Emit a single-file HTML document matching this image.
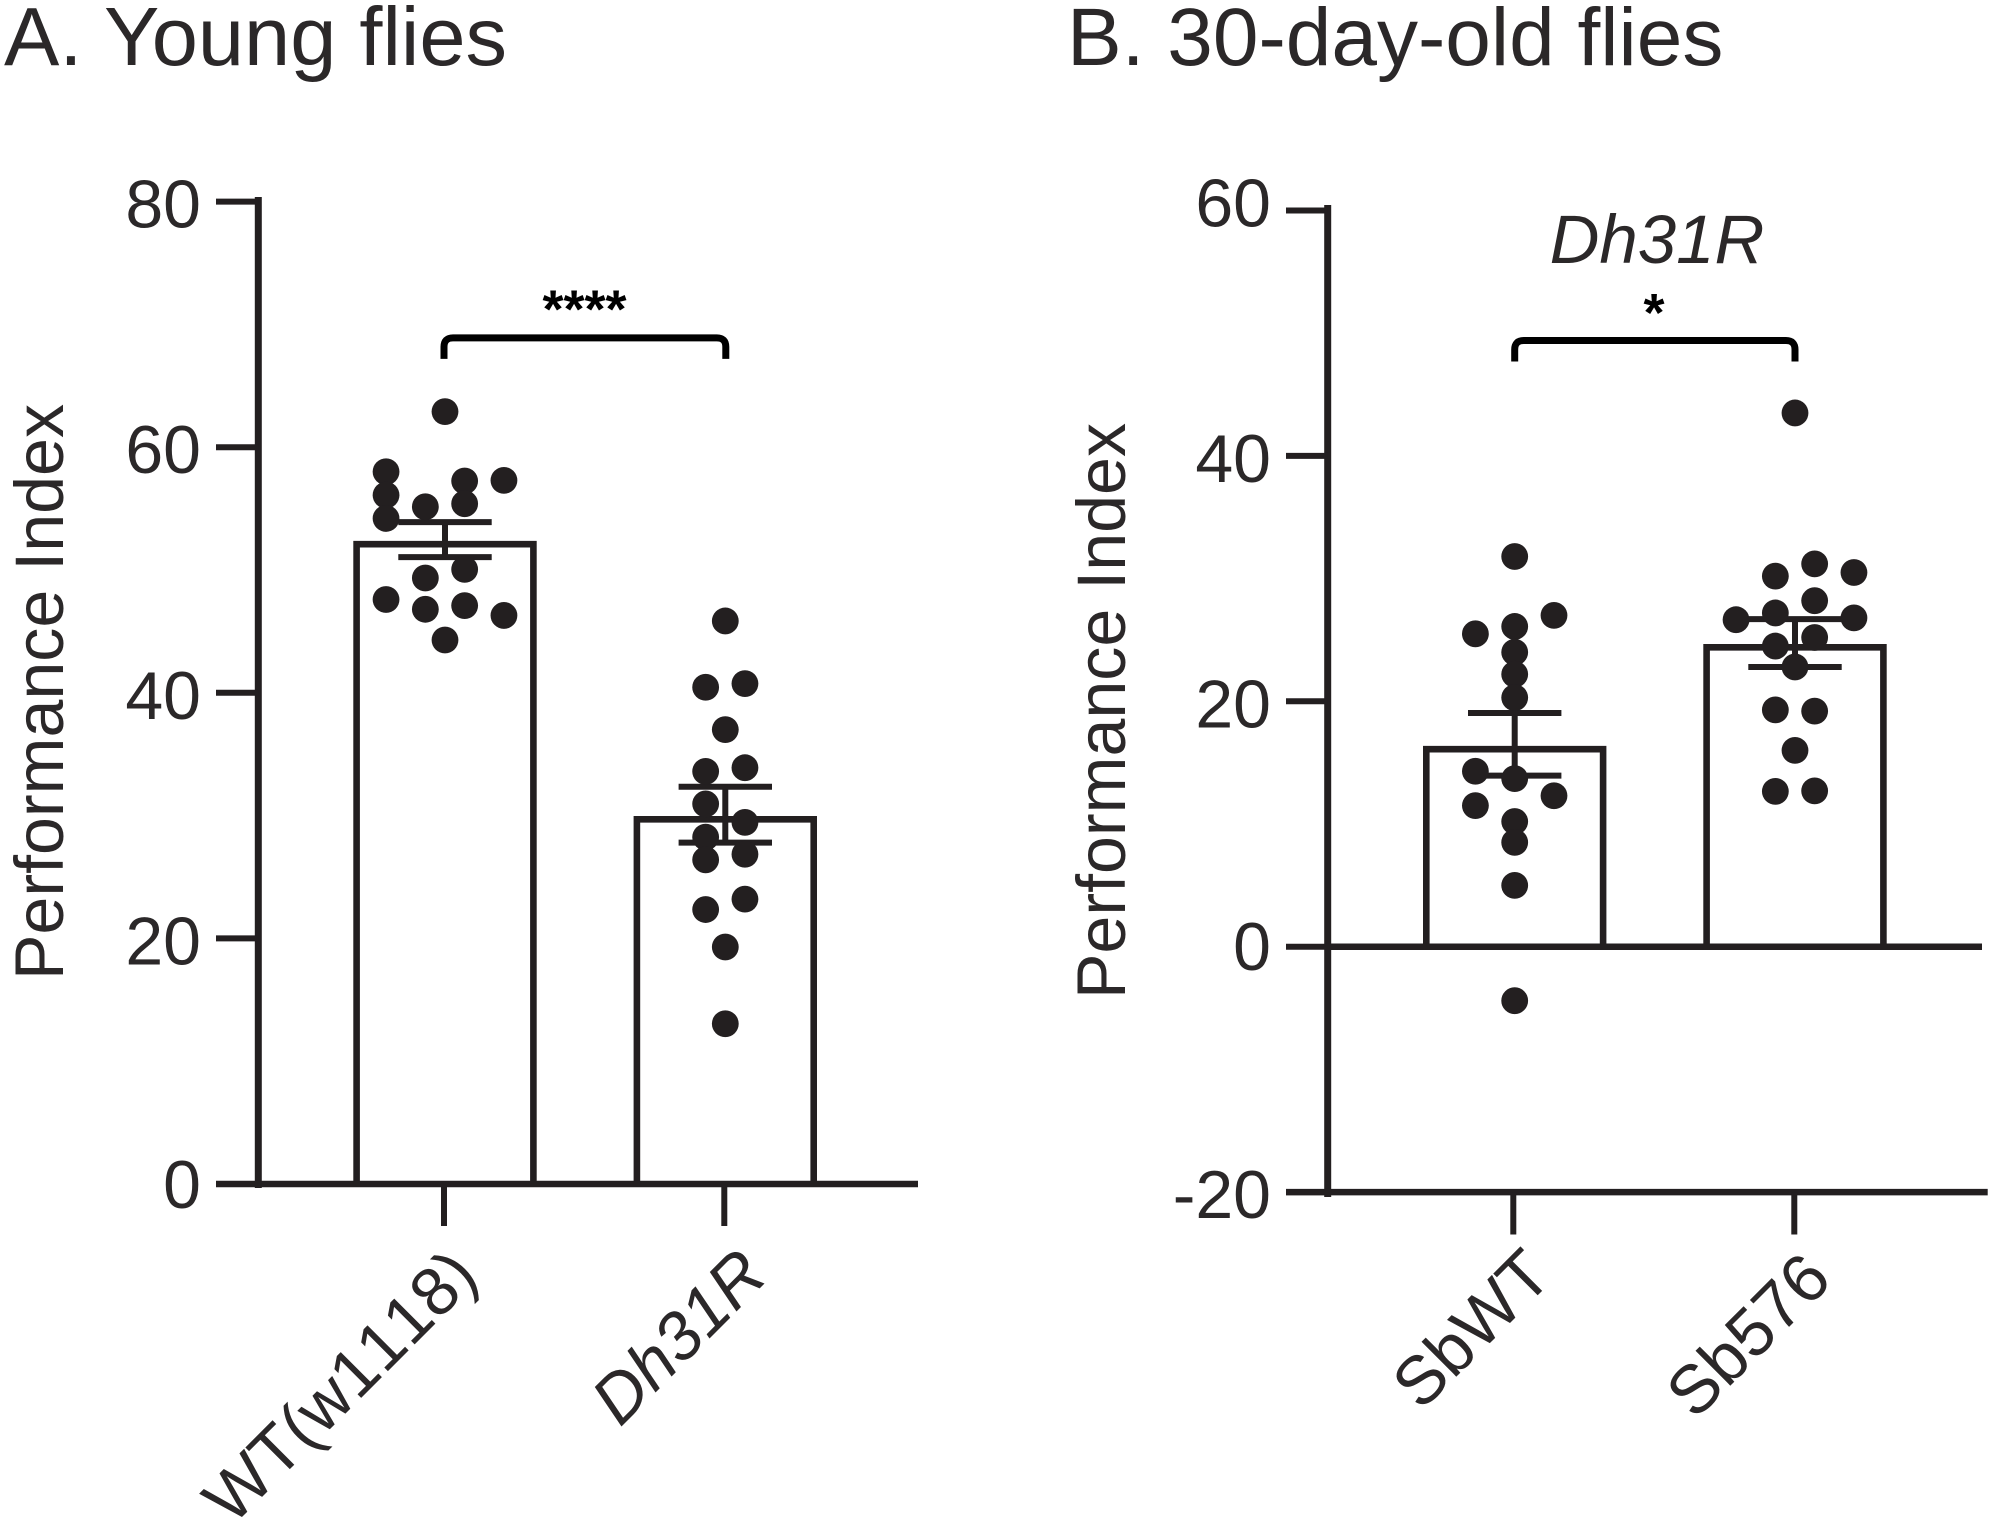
<!DOCTYPE html>
<html lang="en">
<head>
<meta charset="utf-8">
<title>Performance Index of young and 30-day-old flies</title>
<style>
html,body{margin:0;padding:0;background:#fff;width:1995px;height:1527px;overflow:hidden}
svg{display:block}
text{font-family:"Liberation Sans",Arial,sans-serif;fill:#2b2829}
</style>
</head>
<body>
<svg id="figure" xmlns="http://www.w3.org/2000/svg" width="1995" height="1527" viewBox="0 0 1995 1527">
  <rect width="1995" height="1527" fill="#ffffff"/>
  <text x="4" y="65" font-size="83">A. Young flies</text>
  <text x="1067" y="65" font-size="82">B. 30-day-old flies</text>
  <text transform="translate(63,692) rotate(-90)" text-anchor="middle" font-size="68.2">Performance Index</text>
  <text transform="translate(1125,711) rotate(-90)" text-anchor="middle" font-size="68.2">Performance Index</text>
  <text x="1657" y="263" text-anchor="middle" font-size="69" font-style="italic">Dh31R</text>
  <g id="panel-a"></g>
  <g id="panel-b"></g>
</svg>
<script>
// Panel A data
const panelATicks = [0, 20, 40, 60, 80];
const panelACategories = ['WT(w1118)', 'Dh31R'];
const panelAMeans = [52.1, 29.7];
const panelAErrUpper = [53.9, 32.35];
const panelAErrLower = [51.05, 27.8];
const panelAWildtypeValues = [62.9, 58.0, 56.1, 54.2, 55.15, 57.25, 55.4, 57.3, 50.05, 49.35, 47.6, 46.8, 47.1, 46.3, 44.3];
const panelAWildtypeLanes = [0, -3, -3, -3, -1, 1, 1, 3, 1, -1, -3, -1, 1, 3, 0];
const panelAMutantValues = [45.85, 40.45, 40.75, 37.0, 33.6, 33.9, 30.95, 29.45, 28.25, 26.4, 26.85, 22.35, 23.2, 19.3, 13.05];
const panelAMutantLanes = [0, -1, 1, 0, -1, 1, -1, 1, -1, -1, 1, -1, 1, 0, 0];
const panelASignificance = '****';
const panelABracketValue = 68.9;

// Panel B data
const panelBTicks = [-20, 0, 20, 40, 60];
const panelBCategories = ['SbWT', 'Sb576'];
const panelBMeans = [16.1, 24.4];
const panelBErrUpper = [19.05, 26.7];
const panelBErrLower = [13.94, 22.8];
const panelBSbWTValues = [31.8, 27.0, 25.5, 26.1, 24.0, 22.2, 20.3, 14.3, 13.7, 12.3, 11.5, 10.2, 8.5, 5.0, -4.4];
const panelBSbWTLanes = [0, 2, -2, 0, 0, 0, 0, -2, 0, 2, -2, 0, 0, 0, 0];
const panelBSb576Values = [43.5, 31.2, 30.2, 30.5, 28.2, 26.65, 27.2, 26.8, 25.2, 24.5, 22.8, 19.3, 19.2, 16.0, 12.66, 12.7];
const panelBSb576Lanes = [0, 1, -1, 3, 1, -3, -1, 3, 1, -1, 0, -1, 1, 0, -1, 1];
const panelBSignificance = '*';
const panelBBracketValue = 49.4;

const INK = '#231f20';
const SVGNS = 'http://www.w3.org/2000/svg';

function mk(parent, tag, attrs) {
  const el = document.createElementNS(SVGNS, tag);
  for (const k in attrs) el.setAttribute(k, attrs[k]);
  parent.appendChild(el);
  return el;
}
function seg(parent, x1, y1, x2, y2, w) {
  return mk(parent, 'line', { x1: x1, y1: y1, x2: x2, y2: y2, stroke: INK, 'stroke-width': w });
}

// Axis functions
const yA = v => 1184 - v * 12.28;
const yB = v => 946.7 - v * 12.27;
const xA = i => 445 + i * 280.3;
const xB = i => 1514.7 + i * 280.3;
const LANE = 19.65;
const BAR_HALF = 88.4;
const CAP_HALF = 46.7;
const DOT_R = 13.4;

function drawYAxis(g, ticks, y, axisX, tickLeft, labelX, top, bottom, labelDrop) {
  const axis = seg(g, axisX, top, axisX, bottom, 7);
  
  
  ticks.forEach(t => {
    const tick = seg(g, tickLeft, y(t), axisX, y(t), 6);
    
    
    const label = mk(g, 'text', { x: labelX, y: y(t) + labelDrop(t), 'text-anchor': 'end', 'font-size': 68 });
    label.textContent = String(t);
    
    
  });
}

function drawBar(g, cx, y, mean, base) {
  const bar = mk(g, 'path', {
    d: 'M' + (cx - BAR_HALF) + ',' + y(base) + 'V' + y(mean) + 'H' + (cx + BAR_HALF) + 'V' + y(base),
    fill: '#ffffff', stroke: INK, 'stroke-width': 6.6
  });
  
  
}

function drawError(g, cx, y, upper, lower) {
  const stem = seg(g, cx, y(upper), cx, y(lower), 6);
  
  
  const capTop = seg(g, cx - CAP_HALF, y(upper), cx + CAP_HALF, y(upper), 6);
  
  
  const capBottom = seg(g, cx - CAP_HALF, y(lower), cx + CAP_HALF, y(lower), 6);
  
  
}

function drawDots(g, cx, y, values, lanes) {
  values.forEach((v, i) => {
    const dot = mk(g, 'circle', { cx: cx + lanes[i] * LANE, cy: y(v), r: DOT_R, fill: INK });
    
    
  });
}

function drawBracket(g, x1, x2, yTop, legLen) {
  const b = mk(g, 'path', {
    d: 'M' + x1 + ',' + (yTop + legLen) + 'V' + (yTop + 9) + 'Q' + x1 + ',' + yTop + ' ' + (x1 + 9) + ',' + yTop +
       'H' + (x2 - 9) + 'Q' + x2 + ',' + yTop + ' ' + x2 + ',' + (yTop + 9) + 'V' + (yTop + legLen),
    fill: 'none', stroke: '#000000', 'stroke-width': 7
  });
  
  
}

function drawStars(g, x, baseY, s) {
  const t = mk(g, 'text', { x: x, y: baseY, 'text-anchor': 'middle', 'font-size': 54, 'font-weight': 'bold' });
  t.style.fill = '#000000';
  t.textContent = s;
  
  
}

function drawXTick(g, cx, yAxis, yEnd) {
  const tick = seg(g, cx, yAxis, cx, yEnd, 6);
  
  
}

function drawXLabel(g, px, py, text, italic) {
  const t = mk(g, 'text', { transform: 'translate(' + px + ',' + py + ') rotate(-45)', 'font-size': 68 });
  t.style.fontKerning = 'none';
  if (italic) t.setAttribute('font-style', 'italic');
  t.textContent = text;
  
  
}

// Panel A
(function () {
  const g = document.getElementById('panel-a');
  panelAMeans.forEach((m, i) => drawBar(g, xA(i), yA, m, 0));
  drawError(g, xA(0), yA, panelAErrUpper[0], panelAErrLower[0]);
  drawError(g, xA(1), yA, panelAErrUpper[1], panelAErrLower[1]);
  drawDots(g, xA(0), yA, panelAWildtypeValues, panelAWildtypeLanes);
  drawDots(g, xA(1), yA, panelAMutantValues, panelAMutantLanes);
  drawYAxis(g, panelATicks, yA, 258.3, 216, 201, 197, 1188, t => (t === 0 ? 24 : 26));
  const xLine = seg(g, 216, yA(0), 918, yA(0), 6.5);
  
  
  drawXTick(g, xA(0) - 1, yA(0), 1226);
  drawXTick(g, xA(1) - 1, yA(0), 1226);
  drawXLabel(g, 232, 1527, panelACategories[0], false);
  drawXLabel(g, 620, 1428, panelACategories[1], true);
  drawBracket(g, xA(0) - 1, xA(1) + 0.5, yA(panelABracketValue), 21);
  drawStars(g, 584.5, 327.5, panelASignificance);
})();

// Panel B
(function () {
  const g = document.getElementById('panel-b');
  panelBMeans.forEach((m, i) => drawBar(g, xB(i), yB, m, 0));
  drawError(g, xB(0), yB, panelBErrUpper[0], panelBErrLower[0]);
  drawError(g, xB(1), yB, panelBErrUpper[1], panelBErrLower[1]);
  drawDots(g, xB(0), yB, panelBSbWTValues, panelBSbWTLanes);
  drawDots(g, xB(1), yB, panelBSb576Values, panelBSb576Lanes);
  drawYAxis(g, panelBTicks, yB, 1327.7, 1286, 1271, 205, 1197, t => (t === 60 ? 16 : t === 0 ? 23.5 : 26));
  const zeroLine = seg(g, 1327, yB(0), 1982, yB(0), 6.5);
  
  
  const xLine = seg(g, 1286, yB(-20), 1987.7, yB(-20), 6.5);
  
  
  drawXTick(g, xB(0) - 1.4, yB(-20), 1234.5);
  drawXTick(g, xB(1) - 0.7, yB(-20), 1234.5);
  drawXLabel(g, 1421, 1412, panelBCategories[0], false);
  drawXLabel(g, 1695, 1421, panelBCategories[1], false);
  drawBracket(g, xB(0), xB(1), yB(panelBBracketValue), 21);
  drawStars(g, 1654, 331, panelBSignificance);
})();
</script>
</body>
</html>
